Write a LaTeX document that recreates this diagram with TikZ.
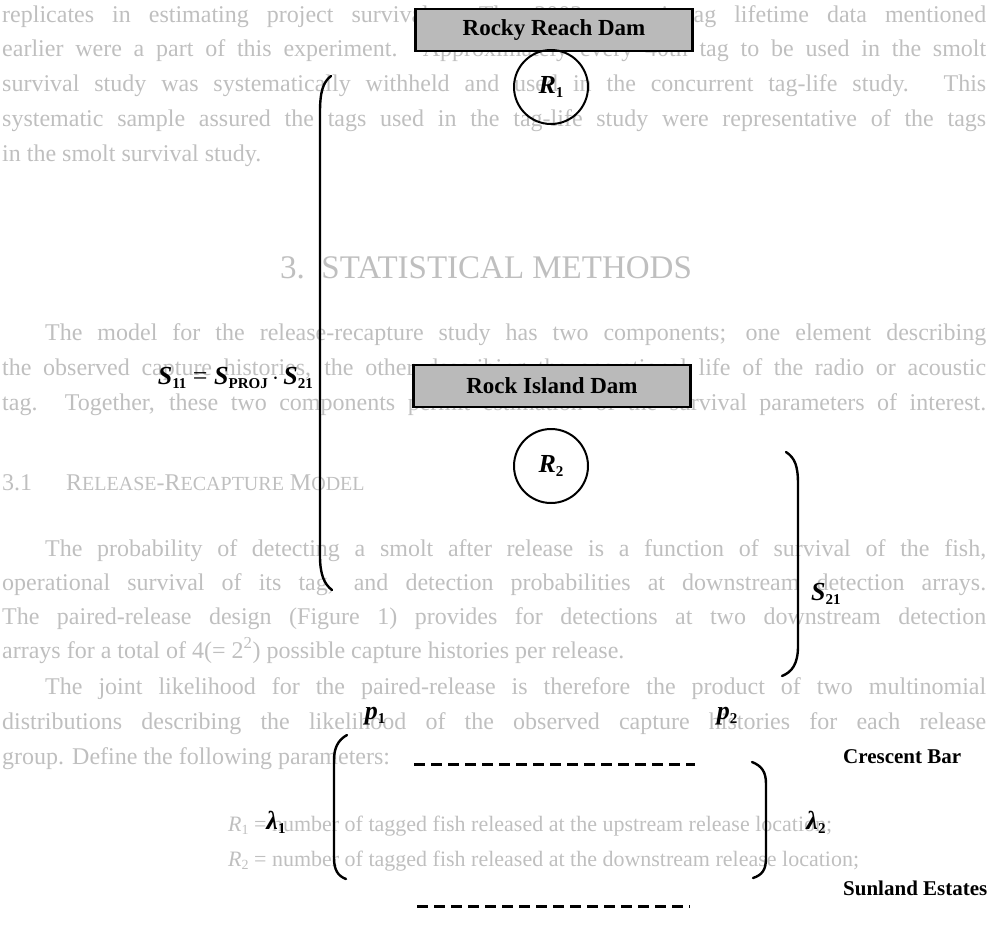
\documentclass[tikz,border=0pt]{standalone}
\usepackage{fontspec}
\setmainfont{Liberation Serif}
\usetikzlibrary{calc}

\newcommand{\sub}[1]{\raisebox{-0.32ex}{\fontsize{15}{15}\selectfont\bfseries #1}}
\newcommand{\var}[1]{\textbf{\textit{#1}}}
\newcommand{\bgsub}[1]{\raisebox{-0.3ex}{\fontsize{14}{14}\selectfont #1}}
\newcommand{\smc}[1]{{\fontsize{20}{20}\selectfont #1}}

\tikzset{
	dam/.style={draw, line width=2.8pt, fill=black!27, minimum width=277pt, minimum height=42pt,
		inner sep=0pt, font=\fontsize{23}{23}\selectfont\bfseries},
	release/.style={draw, circle, line width=2pt, minimum size=74pt, inner sep=0pt,
		font=\fontsize{26}{26}\selectfont},
	param/.style={inner sep=1pt, font=\fontsize{26}{26}\selectfont},
	site/.style={inner sep=1pt, font=\fontsize{21}{21}\selectfont\bfseries},
	brk/.style={line width=2.4pt, line cap=round},
	array/.style={line width=3pt, dash pattern=on 11pt off 6pt},
	bg/.style={anchor=base west, inner sep=0pt, text=black!25, font=\fontsize{24}{24}\selectfont},
}

\begin{document}
\begin{tikzpicture}[x=1pt, y=-1pt]
\useasboundingbox (0,0) rectangle (990,929);

% page text showing through
\node[bg] (t1) at (2,22) {\makebox[984pt][s]{replicates in estimating project survival. The 2003 acoustic-tag lifetime data mentioned}};
\node[bg] (t2) at (2,56) {\makebox[984pt][s]{earlier were a part of this experiment. Approximately every 40th tag to be used in the smolt}};
\node[bg] (t3) at (2,91) {\makebox[984pt][s]{survival study was systematically withheld and used in the concurrent tag-life study. This}};
\node[bg] (t4) at (2,126) {\makebox[984pt][s]{systematic sample assured the tags used in the tag-life study were representative of the tags}};
\node[bg] (t5) at (2,161) {in the smolt survival study.};
\node[bg, font=\fontsize{33}{33}\selectfont] (t6) at (280,278) {3.\ \ STATISTICAL METHODS};
\node[bg] (t7) at (45,340) {\makebox[941pt][s]{The model for the release-recapture study has two components; one element describing}};
\node[bg] (t8) at (2,375) {\makebox[984pt][s]{the observed capture histories, the other describing the operational life of the radio or acoustic}};
\node[bg] (t9) at (2,410) {\makebox[984pt][s]{tag. Together, these two components permit estimation of the survival parameters of interest.}};
\node[bg] (t10) at (2,490) {3.1\hspace{34pt}R\smc{ELEASE}-R\smc{ECAPTURE} M\smc{ODEL}};
\node[bg] (t11) at (45,556) {\makebox[941pt][s]{The probability of detecting a smolt after release is a function of survival of the fish,}};
\node[bg] (t12) at (2,590) {\makebox[984pt][s]{operational survival of its tag, and detection probabilities at downstream detection arrays.}};
\node[bg] (t13) at (2,624) {\makebox[984pt][s]{The paired-release design (Figure 1) provides for detections at two downstream detection}};
\node[bg] (t14) at (2,658) {arrays for a total of 4(= 2\textsuperscript{2}) possible capture histories per release.};
\node[bg] (t15) at (45,694) {\makebox[941pt][s]{The joint likelihood for the paired-release is therefore the product of two multinomial}};
\node[bg] (t16) at (2,729) {\makebox[984pt][s]{distributions describing the likelihood of the observed capture histories for each release}};
\node[bg] (t17) at (2,764) {group. Define the following parameters:};
\node[bg, font=\fontsize{22}{22}\selectfont] (t18) at (228,831) {\textit{R}\bgsub{1} = number of tagged fish released at the upstream release location;};
\node[bg, font=\fontsize{22}{22}\selectfont] (t19) at (228,866) {\textit{R}\bgsub{2} = number of tagged fish released at the downstream release location;};

% dams and release sites
\node[dam] (rrd) at (554,30) {Rocky Reach Dam};
\node[release] (r1) at (551,87) {\var{R}\sub{1}};
\node[dam] (rid) at (552,386) {Rock Island Dam};
\node[release] (r2) at (551,466) {\var{R}\sub{2}};

% survival brackets
\coordinate (big-t) at (331,76);
\coordinate (big-b) at (332,590);
\draw[brk] (big-t) .. controls (323,82) and (320,92) .. (320,112) -- (320,556) .. controls (320,574) and (324,584) .. (big-b);
\node[param, anchor=east] (s11) at (314,378) {\var{S}\sub{11} = \var{S}\sub{PROJ}\,$\cdot$\,\var{S}\sub{21}};

\coordinate (low-t) at (786,452);
\coordinate (low-b) at (782,676);
\draw[brk] (low-t) .. controls (795,458) and (798,466) .. (798,484) -- (798,646) .. controls (798,664) and (792,672) .. (low-b);
\node[param, anchor=west] (s21) at (810,594) {\var{S}\sub{21}};

% detection arrays
\node[site, anchor=west] (cb) at (842,757) {Crescent Bar};
\node[site, anchor=west] (se) at (842,888) {Sunland Estates};
\coordinate (cb-w) at (414,764);
\coordinate (cb-e) at (695,764);
\coordinate (se-w) at (417,906);
\coordinate (se-e) at (690,906);
\draw[array] (cb-w) -- (cb-e);
\draw[array] (se-w) -- (se-e);

\node[param] (p1) at (375,716) {\var{p}\sub{1}};
\node[param] (p2) at (727,716) {\var{p}\sub{2}};

\coordinate (lam-lt) at (347,735);
\coordinate (lam-lb) at (346,879);
\draw[brk] (lam-lt) .. controls (338,740) and (334,748) .. (334,760) -- (334,858) .. controls (334,870) and (338,876) .. (lam-lb);
\coordinate (lam-rt) at (752,762);
\coordinate (lam-rb) at (753,878);
\draw[brk] (lam-rt) .. controls (762,766) and (766,772) .. (766,784) -- (766,858) .. controls (766,870) and (762,875) .. (lam-rb);
\node[param] (l1) at (276,822) {\var{λ}\sub{1}};
\node[param] (l2) at (816,822) {\var{λ}\sub{2}};
\end{tikzpicture}
\end{document}
